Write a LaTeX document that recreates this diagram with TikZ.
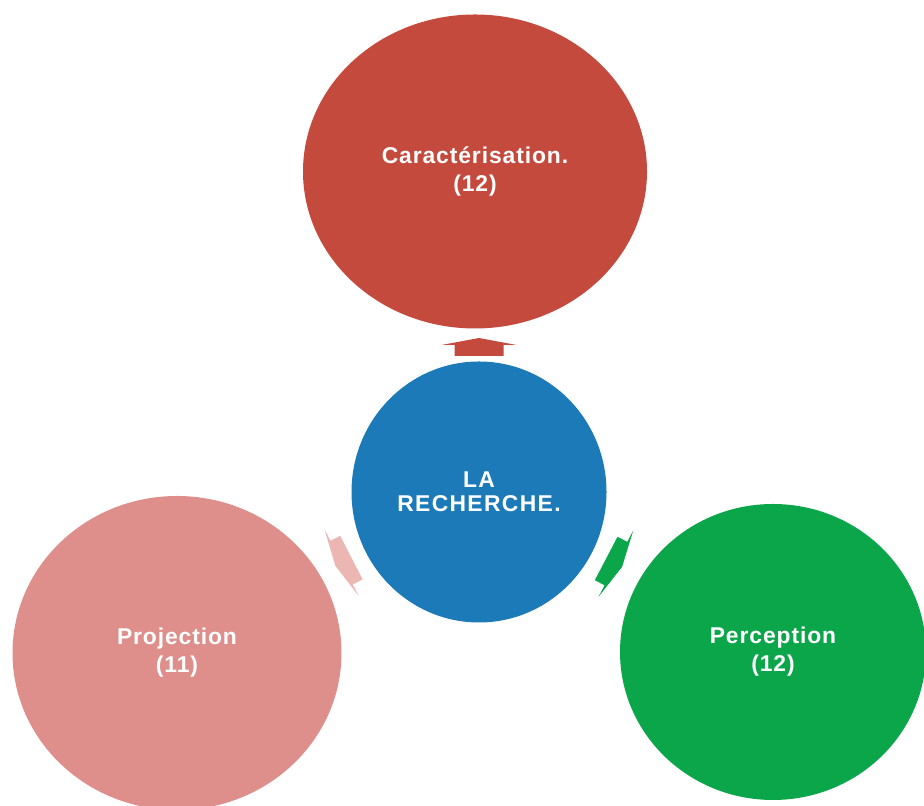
\documentclass[tikz,border=0pt]{standalone}
\usepackage{fontspec}
\setmainfont{Liberation Sans}
\usepackage{xcolor}
\usepackage{tikz}
\usetikzlibrary{shapes.geometric, positioning, calc}
\definecolor{caracred}{RGB}{197,74,62}
\definecolor{rechblue}{RGB}{28,122,185}
\definecolor{projpink}{RGB}{223,143,139}
\definecolor{projarrow}{RGB}{236,182,178}
\definecolor{percgreen}{RGB}{12,166,74}

\tikzset{
  bubble/.style={ellipse, inner sep=0pt, draw=none, text=white, align=center,
                 font=\fontsize{13}{16}\selectfont\bfseries\addfontfeatures{LetterSpace=4}},
  radarrow/.style={draw=none}
}

\begin{document}
\begin{tikzpicture}
  \useasboundingbox (0,0) rectangle (18.48,16.12);

  % centre
  \node[bubble, fill=rechblue, minimum width=5.10cm, minimum height=5.22cm,
        font=\fontsize{13}{13.6}\selectfont\bfseries\addfontfeatures{LetterSpace=6}]
        (recherche) at (9.58,6.28) {LA\\RECHERCHE.};

  % outer circles
  \node[bubble, fill=caracred, minimum width=6.88cm, minimum height=6.28cm]
        (caract) at (9.50,12.69) {Caractérisation.\\(12)};
  \node[bubble, fill=projpink, minimum width=6.58cm, minimum height=6.28cm]
        (projection) at (3.54,3.06) {Projection\\(11)};
  \node[bubble, fill=percgreen, minimum width=6.12cm, minimum height=5.92cm]
        (perception) at (15.46,3.08) {Perception\\(12)};

  % arrows out of the centre
  \foreach \ang/\dist/\col in {90/2.94/caracred, 207.2/3.09/projarrow, 332.4/3.09/percgreen}{
    \begin{scope}[shift={(recherche.center)}, rotate=\ang]
      \fill[radarrow, \col] (\dist+0.14,0) -- (\dist,0.75) -- (\dist,0.49)
        -- (\dist-0.22,0.49) -- (\dist-0.22,-0.49) -- (\dist,-0.49) -- (\dist,-0.75) -- cycle;
    \end{scope}
  }

\end{tikzpicture}
\end{document}
